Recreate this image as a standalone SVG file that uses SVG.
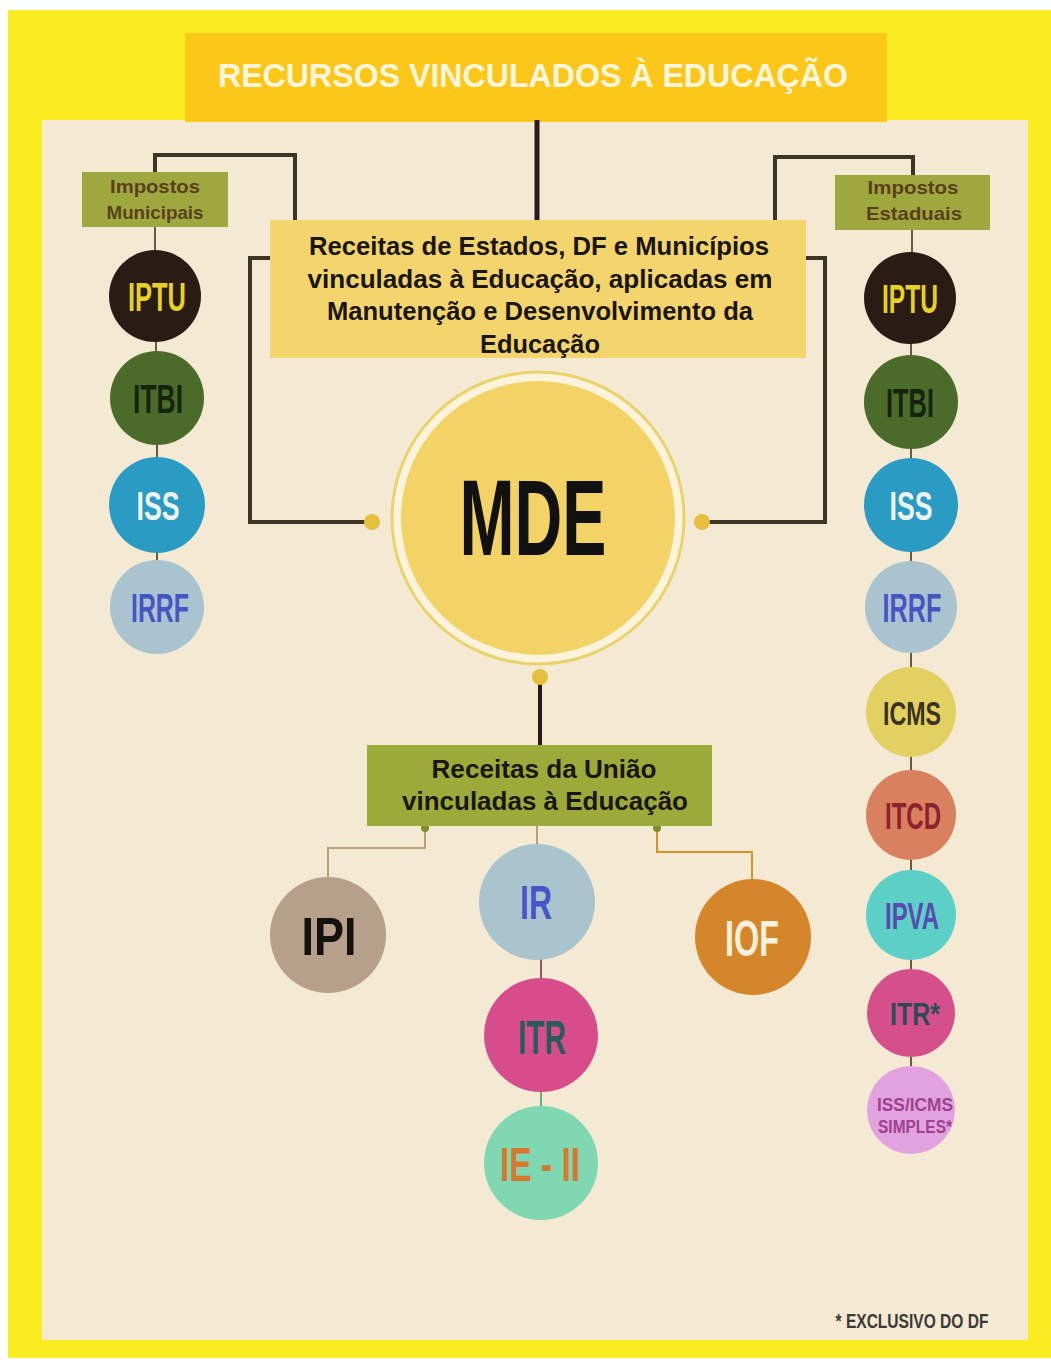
<svg xmlns="http://www.w3.org/2000/svg" width="1051" height="1362" viewBox="0 0 1051 1362">
<style>
.t{font-family:"Liberation Sans",Arial,sans-serif;font-weight:bold;text-anchor:middle}
.c{font-family:"Liberation Sans",Arial,sans-serif;font-weight:bold;text-anchor:middle}
.ln{fill:none;stroke:#3d3426;stroke-width:4}
.thin{fill:none;stroke:#6b5a40;stroke-width:2}
</style>
<rect x="0" y="0" width="1051" height="1362" fill="#ffffff"/>
<rect x="8" y="10" width="1043" height="1348" fill="#fbec22"/>
<rect x="42" y="120" width="986" height="1220" fill="#f4e9d3"/>

<g id="title">
<rect x="185" y="33" width="702" height="89" fill="#fdc71a"/>
<text class="t" x="533" y="87" font-size="33" fill="#fff6dc" textLength="630" lengthAdjust="spacingAndGlyphs">RECURSOS VINCULADOS À EDUCAÇÃO</text>
</g>

<g id="connectors">
<line x1="537" y1="120" x2="537" y2="220" stroke="#2b1a1c" stroke-width="5"/>
<polyline class="ln" points="155,172 155,155 295,155 295,220"/>
<polyline class="ln" points="775,220 775,157 913,157 913,176"/>
<polyline class="ln" points="270,258 250,258 250,522 372,522"/>
<polyline class="ln" points="806,258 825,258 825,522 702,522"/>
<line x1="540" y1="677" x2="540" y2="745" stroke="#2b1a1c" stroke-width="4"/>
<polyline fill="none" stroke="#b9a07a" stroke-width="2" points="425,826 425,848 328,848 328,878"/>
<line x1="537" y1="826" x2="537" y2="846" stroke="#b9a07a" stroke-width="2"/>
<polyline fill="none" stroke="#d8922c" stroke-width="2" points="657,826 657,852 752,852 752,880"/>
<line x1="541" y1="958" x2="541" y2="980" stroke="#a05070" stroke-width="2"/>
<line x1="541" y1="1090" x2="541" y2="1108" stroke="#60b090" stroke-width="2"/>
<line class="thin" x1="155" y1="227" x2="155" y2="252"/>
<line class="thin" x1="156" y1="340" x2="156" y2="352"/>
<line class="thin" x1="157" y1="444" x2="157" y2="458"/>
<line class="thin" x1="157" y1="552" x2="157" y2="562"/>
<line class="thin" x1="912" y1="230" x2="912" y2="254"/>
<line class="thin" x1="911" y1="343" x2="911" y2="357"/>
<line class="thin" x1="911" y1="448" x2="911" y2="460"/>
<line class="thin" x1="911" y1="551" x2="911" y2="562"/>
<line class="thin" x1="911" y1="652" x2="911" y2="668"/>
<line class="thin" x1="911" y1="756" x2="911" y2="771"/>
<line class="thin" x1="911" y1="859" x2="911" y2="871"/>
<line class="thin" x1="911" y1="959" x2="911" y2="969"/>
<line class="thin" x1="911" y1="1057" x2="911" y2="1066"/>
<circle cx="372" cy="522" r="8" fill="#e6bf3e"/>
<circle cx="702" cy="522" r="8" fill="#e6bf3e"/>
<circle cx="540" cy="677" r="8" fill="#e6bf3e"/>
<circle cx="425" cy="828" r="4" fill="#7d8d2c"/>
<circle cx="657" cy="828" r="4" fill="#7d8d2c"/>
</g>

<g id="receitas-edf">
<rect x="270" y="220" width="536" height="138" fill="#f4d46c"/>
<text class="t" font-size="25" fill="#1a1614"><tspan x="539" y="255" textLength="460" lengthAdjust="spacingAndGlyphs">Receitas de Estados, DF e Municípios</tspan><tspan x="540" y="288" textLength="465" lengthAdjust="spacingAndGlyphs">vinculadas à Educação, aplicadas em</tspan><tspan x="540" y="320" textLength="426" lengthAdjust="spacingAndGlyphs">Manutenção e Desenvolvimento da</tspan><tspan x="540" y="353" textLength="120" lengthAdjust="spacingAndGlyphs">Educação</tspan></text>
</g>

<g id="mde">
<circle cx="538" cy="518" r="146" fill="#fbf3dc" stroke="#ead36a" stroke-width="3"/>
<circle cx="538" cy="518" r="137" fill="#f3d365"/>
<text class="c" x="533" y="555" font-size="107" fill="#111" textLength="147" lengthAdjust="spacingAndGlyphs">MDE</text>
</g>

<g id="impostos-municipais">
<rect x="82" y="172" width="146" height="55" fill="#9fa83f"/>
<text class="t" font-size="19" fill="#5a3f1c"><tspan x="155" y="193" textLength="90" lengthAdjust="spacingAndGlyphs">Impostos</tspan><tspan x="155" y="219" textLength="97" lengthAdjust="spacingAndGlyphs">Municipais</tspan></text>
</g>

<g id="impostos-estaduais">
<rect x="835" y="175" width="155" height="55" fill="#9fa83f"/>
<text class="t" font-size="19" fill="#5a3f1c"><tspan x="913" y="194" textLength="91" lengthAdjust="spacingAndGlyphs">Impostos</tspan><tspan x="914" y="220" textLength="96" lengthAdjust="spacingAndGlyphs">Estaduais</tspan></text>
</g>

<g id="m-iptu"><circle cx="155" cy="296" r="46" fill="#2a1c14"/><text class="c" x="157" y="311" font-size="40" fill="#e6d226" textLength="58" lengthAdjust="spacingAndGlyphs">IPTU</text></g>
<g id="m-itbi"><circle cx="157" cy="398" r="47" fill="#4b6b2b"/><text class="c" x="158" y="413" font-size="40" fill="#16240e" textLength="50" lengthAdjust="spacingAndGlyphs">ITBI</text></g>
<g id="m-iss"><circle cx="157" cy="505" r="48" fill="#2a9bc2"/><text class="c" x="158" y="520" font-size="40" fill="#eef3f2" textLength="43" lengthAdjust="spacingAndGlyphs">ISS</text></g>
<g id="m-irrf"><circle cx="157" cy="607" r="47" fill="#a9c4cf"/><text class="c" x="160" y="622" font-size="40" fill="#4654c4" textLength="58" lengthAdjust="spacingAndGlyphs">IRRF</text></g>

<g id="e-iptu"><circle cx="910" cy="298" r="46" fill="#2a1c14"/><text class="c" x="910" y="313" font-size="40" fill="#e6d226" textLength="56" lengthAdjust="spacingAndGlyphs">IPTU</text></g>
<g id="e-itbi"><circle cx="911" cy="402" r="47" fill="#4b6b2b"/><text class="c" x="910" y="417" font-size="40" fill="#16240e" textLength="48" lengthAdjust="spacingAndGlyphs">ITBI</text></g>
<g id="e-iss"><circle cx="911" cy="505" r="47" fill="#2a9bc2"/><text class="c" x="911" y="520" font-size="40" fill="#eef3f2" textLength="43" lengthAdjust="spacingAndGlyphs">ISS</text></g>
<g id="e-irrf"><circle cx="911" cy="607" r="46" fill="#a9c4cf"/><text class="c" x="912" y="622" font-size="40" fill="#4654c4" textLength="59" lengthAdjust="spacingAndGlyphs">IRRF</text></g>
<g id="e-icms"><circle cx="911" cy="712" r="45" fill="#e2d162"/><text class="c" x="912" y="725" font-size="34" fill="#3b3220" textLength="58" lengthAdjust="spacingAndGlyphs">ICMS</text></g>
<g id="e-itcd"><circle cx="911" cy="815" r="45" fill="#d9805e"/><text class="c" x="913" y="829" font-size="36" fill="#8c2230" textLength="56" lengthAdjust="spacingAndGlyphs">ITCD</text></g>
<g id="e-ipva"><circle cx="911" cy="915" r="45" fill="#5ccfc6"/><text class="c" x="912" y="929" font-size="36" fill="#5a4bb2" textLength="54" lengthAdjust="spacingAndGlyphs">IPVA</text></g>
<g id="e-itr"><circle cx="911" cy="1013" r="44" fill="#d5508b"/><text class="c" x="915" y="1025" font-size="32" fill="#2c4b5a" textLength="50" lengthAdjust="spacingAndGlyphs">ITR*</text></g>
<g id="e-simples"><circle cx="911" cy="1110" r="44" fill="#e2a2e0"/><text class="c" font-size="18" fill="#a0408f"><tspan x="915" y="1111" textLength="76" lengthAdjust="spacingAndGlyphs">ISS/ICMS</tspan><tspan x="915" y="1133" textLength="74" lengthAdjust="spacingAndGlyphs">SIMPLES*</tspan></text></g>

<g id="receitas-uniao">
<rect x="367" y="745" width="345" height="81" fill="#9bab3a"/>
<text class="t" font-size="25" fill="#1a1614"><tspan x="544" y="778" textLength="225" lengthAdjust="spacingAndGlyphs">Receitas da União</tspan><tspan x="545" y="810" textLength="286" lengthAdjust="spacingAndGlyphs">vinculadas à Educação</tspan></text>
</g>

<g id="u-ipi"><circle cx="328" cy="935" r="58" fill="#b6a089"/><text class="c" x="329" y="955" font-size="54" fill="#141210" textLength="55" lengthAdjust="spacingAndGlyphs">IPI</text></g>
<g id="u-ir"><circle cx="537" cy="902" r="58" fill="#a9c4cd"/><text class="c" x="536" y="919" font-size="48" fill="#4656c6" textLength="32" lengthAdjust="spacingAndGlyphs">IR</text></g>
<g id="u-itr"><circle cx="541" cy="1035" r="57" fill="#d74d8c"/><text class="c" x="542" y="1054" font-size="48" fill="#275b5c" textLength="48" lengthAdjust="spacingAndGlyphs">ITR</text></g>
<g id="u-ie-ii"><circle cx="541" cy="1163" r="57" fill="#7fd8b1"/><text class="c" x="540" y="1181" font-size="48" fill="#d7782c" textLength="80" lengthAdjust="spacingAndGlyphs">IE - II</text></g>
<g id="u-iof"><circle cx="753" cy="937" r="58" fill="#d5862a"/><text class="c" x="752" y="956" font-size="50" fill="#fbf1dc" textLength="54" lengthAdjust="spacingAndGlyphs">IOF</text></g>

<text class="c" x="912" y="1328" font-size="21" fill="#3c3a36" textLength="153" lengthAdjust="spacingAndGlyphs">* EXCLUSIVO DO DF</text>
</svg>
